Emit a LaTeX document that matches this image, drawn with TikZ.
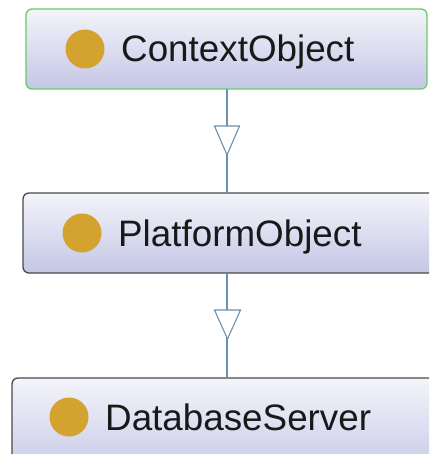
\documentclass[tikz,border=0pt]{standalone}
\usepackage{fontspec}
\setmainfont{Liberation Sans}
\begin{document}
\begin{tikzpicture}[x=1pt,y=-1pt,
  classbox/.style={rounded corners=6pt, line width=1.3pt, draw=boxgray,
    top color=boxtop, bottom color=boxbottom},
  classdot/.style={circle, fill=dotgold, inner sep=0pt, minimum size=39pt},
  classname/.style={anchor=base west, inner sep=0pt, font=\fontsize{36.8}{40}\selectfont, text=black!90},
  inherit/.style={draw=linkblue, line width=1.1pt},
  openhead/.style={draw=linkblue, line width=1.1pt, fill=white, line join=miter}]
\definecolor{boxtop}{HTML}{F4F4FA}
\definecolor{boxbottom}{HTML}{C4C6E6}
\definecolor{boxgray}{HTML}{4A4A4A}
\definecolor{boxgreen}{HTML}{66CC66}
\definecolor{dotgold}{HTML}{D4A22E}
\definecolor{linkblue}{HTML}{6A90B0}
\useasboundingbox (0,0) rectangle (429,454);
\clip (0,0) rectangle (429,454);

% class boxes
\path[classbox, draw=boxgreen] (26,9) rectangle (427,89);
\coordinate (ctxB) at (227,89);
\path[classbox] (23,193) rectangle (436,273);
\coordinate (platT) at (227,193);
\coordinate (platB) at (227,273);
\path[classbox] (12,378) rectangle (450,480);
\coordinate (dbT) at (227,378);

% names with their markers
\node[classdot] (d1) at (85,49) {};
\node[classname] (n1) at (121,62) {ContextObject};
\node[classdot] (d2) at (82,233) {};
\node[classname] (n2) at (118,246) {PlatformObject};
\node[classdot] (d3) at (69,417) {};
\node[classname] (n3) at (105,430) {DatabaseServer};

% generalisation links, open triangle in the middle
\draw[inherit] (ctxB) -- (platT);
\draw[openhead] (214.5,126) -- (239.5,126) -- (227,155) -- cycle;
\draw[inherit] (platB) -- (dbT);
\draw[openhead] (214.5,310) -- (240.5,310) -- (227.5,339) -- cycle;
\end{tikzpicture}
\end{document}
